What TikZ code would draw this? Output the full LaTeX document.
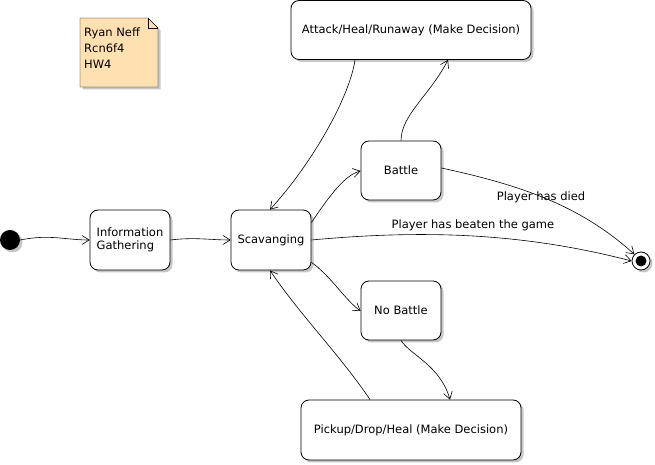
\documentclass[tikz,border=0pt]{standalone}
\usepackage{fontspec}
\setmainfont{DejaVu Sans}
\usetikzlibrary{arrows.meta,shadows,shapes.misc}
\begin{document}
\begin{tikzpicture}[x=1pt,y=1pt,
  font=\fontsize{11.5}{13.5}\selectfont,
  shad/.style={drop shadow={shadow xshift=2.5pt,shadow yshift=-2.5pt,fill=black!22,opacity=1}},
  state/.style={draw,thick,rounded corners=8pt,fill=white,shad,inner sep=0pt},
  tr/.style={-{Straight Barb[length=7pt,width=9pt]},line width=0.6pt},
  lbl/.style={inner sep=1pt}]
\useasboundingbox (0,0) rectangle (655,465);
% note
\fill[black!22] (82.5,375.5) -- (160.5,375.5) -- (160.5,434.5) -- (150.5,444.5) -- (82.5,444.5) -- cycle;
\draw[fill={rgb,255:red,255;green,224;blue,176}] (80,378) -- (158,378) -- (158,437) -- (148,447) -- (80,447) -- cycle;
\draw (148,447) -- (148,437) -- (158,437);
\node[anchor=north west,align=left,inner sep=0pt,font=\fontsize{11.5}{16}\selectfont] (note) at (84,437) {Ryan Neff\\Rcn6f4\\HW4};
% states
\node[circle,fill=black,minimum size=20pt,inner sep=0pt,shad] (init) at (10,225) {};
\node[state,minimum width=80pt,minimum height=60pt,align=left] (info) at (130,225) {Information\\Gathering};
\node[state,minimum width=80pt,minimum height=60pt] (scav) at (271,225) {Scavanging};
\node[state,minimum width=80pt,minimum height=59pt] (battle) at (401,294.5) {Battle};
\node[state,minimum width=80pt,minimum height=59pt] (nob) at (401,154.5) {No Battle};
\node[state,minimum width=240pt,minimum height=59pt] (attack) at (411,435) {Attack/Heal/Runaway (Make Decision)};
\node[state,minimum width=220pt,minimum height=60pt] (pick) at (411,35) {Pickup/Drop/Heal (Make Decision)};
\node[circle,draw,thick,fill=white,minimum size=18pt,inner sep=0pt,shad] (final) at (641,204) {};
\node[circle,fill=black,minimum size=11pt,inner sep=0pt] (finalin) at (final) {};
% labels
\node[lbl] (l1) at (473,240) {Player has beaten the game};
\node[lbl] (l2) at (541,268) {Player has died};
% transitions
\draw[tr] (init.east) .. controls (50,231) and (65,225) .. (info.west);
\draw[tr] (info.east) .. controls (195,228) and (210,225) .. (scav.west);
\draw[tr] ([yshift=-13pt]scav.north east) .. controls (330,270) and (345,290) .. ([yshift=-0.5pt]battle.west);
\draw[tr] (scav.south east) ++(0,8) .. controls (330,190) and (345,165) .. ([yshift=-0.5pt]nob.west);
\draw[tr] ([xshift=-56pt]attack.south) .. controls (350,370) and (315,305) .. ([xshift=-1pt]scav.north);
\draw[tr] ([xshift=-41pt]pick.north) .. controls (340,110) and (300,150) .. ([xshift=-1pt]scav.south);
\draw[tr] (battle.north) .. controls (401,350) and (430,370) .. ([xshift=37pt]attack.south);
\draw[tr] (nob.south) .. controls (410,110) and (440,100) .. ([xshift=39pt]pick.north);
\draw[tr] (scav.east) .. controls (420,235) and (520,233) .. (final.west);
\draw[tr] ([yshift=2.5pt]battle.east) .. controls (520,280) and (580,260) .. (final.north west);
\end{tikzpicture}
\end{document}
